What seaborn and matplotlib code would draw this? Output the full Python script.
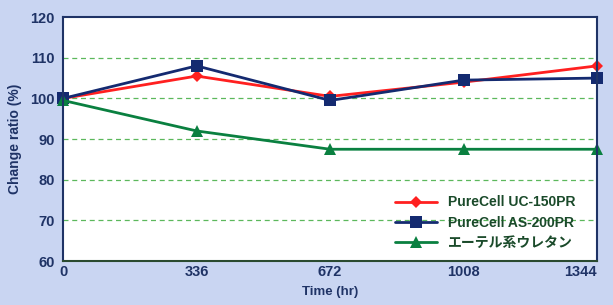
import matplotlib
matplotlib.use("Agg")
import matplotlib.pyplot as plt
import seaborn as sns
import pandas as pd

# Values
time_hr = [0, 336, 672, 1008, 1344]
uc150 = [100, 105.5, 100.5, 104, 108]
as200 = [100, 108, 99.5, 104.5, 105]
ether = [99.5, 92, 87.5, 87.5, 87.5]
series_names = ["PureCell UC-150PR", "PureCell AS-200PR", "エーテル系ウレタン"]
y_ticks = [60, 70, 80, 90, 100, 110, 120]

df = pd.DataFrame({
    "time": time_hr * 3,
    "ratio": uc150 + as200 + ether,
    "series": [series_names[0]] * 5 + [series_names[1]] * 5 + [series_names[2]] * 5,
})

sns.set_theme(style="white")
plt.rcParams["font.family"] = ["Liberation Sans", "Noto Sans CJK JP"]

bg = "#c9d5f2"
navy = "#1f3366"
fig = plt.figure(figsize=(6.13, 3.05), dpi=100, facecolor=bg)
ax = fig.add_axes([0.103, 0.144, 0.871, 0.8])

palette = {series_names[0]: "#ff2020", series_names[1]: "#142a70", series_names[2]: "#0a8040"}
markers = {series_names[0]: "D", series_names[1]: "s", series_names[2]: "^"}
sizes = {series_names[0]: 6.5, series_names[1]: 8, series_names[2]: 8}

for name in series_names:
    sub = df[df["series"] == name]
    sns.lineplot(data=sub, x="time", y="ratio", ax=ax, color=palette[name],
                 marker=markers[name], markersize=sizes[name], markeredgewidth=0,
                 linewidth=2, label=name, clip_on=False)

ax.set_xlim(0, 1344)
ax.set_ylim(60, 120)
ax.set_xticks(time_hr)
ax.set_yticks(y_ticks)
for y in y_ticks[1:-1]:
    ax.axhline(y, color="#5cb85c", linestyle=(0, (4, 3)), linewidth=0.9, zorder=0)

for s in ax.spines.values():
    s.set_color(navy)
    s.set_linewidth(1.5)
ax.spines["bottom"].set_color("#2a4a30")

ax.tick_params(axis="both", colors=navy, labelsize=10.5, length=0)
ax.tick_params(axis="y", pad=6)
ax.tick_params(axis="x", pad=3)
for lab in ax.get_xticklabels() + ax.get_yticklabels():
    lab.set_fontweight("bold")
    lab.set_color(navy)
ax.get_xticklabels()[-1].set_horizontalalignment("right")
ax.get_xticklabels()[-1].set_x(1344)

ax.set_xlabel("Time (hr)", color=navy, fontsize=9.5, fontweight="bold", labelpad=5)
ax.set_ylabel("Change ratio (%)", color=navy, fontsize=10, fontweight="bold", labelpad=6)

leg = ax.legend(loc="lower right", frameon=False, fontsize=10, handlelength=3,
                borderaxespad=0.4, labelspacing=0.45, bbox_to_anchor=(0.98, 0.0))
for t in leg.get_texts():
    t.set_color("#1a4a2a")
    t.set_fontweight("bold")

fig.savefig("out.png", dpi=100, facecolor=bg)
